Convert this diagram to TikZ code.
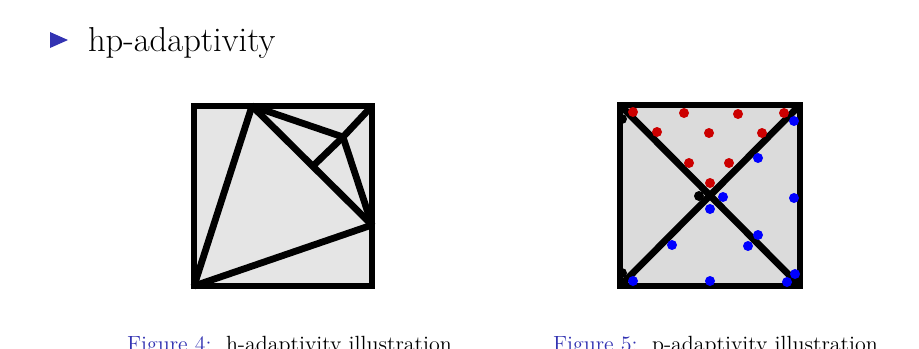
\documentclass[tikz,border=0pt]{standalone}
\usepackage{tikz}
\definecolor{structblue}{RGB}{51,51,178}
\definecolor{dotred}{RGB}{204,0,0}
\definecolor{dotblue}{RGB}{0,0,255}

\begin{document}
\begin{tikzpicture}[x=0.5pt, y=-0.5pt, every node/.style={inner sep=0pt, outer sep=0pt},
	mesh/.style={line width=3.4pt}, dot/.style={radius=2.5pt}]
	\clip (0,0) rectangle (919,348);
	\fill[structblue] (50,32) -- (50,48) -- (68,40) -- cycle;
	\node[anchor=base west, font=\fontsize{17.3}{21}\selectfont] (title) at (88,51) {hp-adaptivity};
	% h-adaptivity mesh
	\begin{scope}
		\coordinate (a1) at (194,106);
		\coordinate (a2) at (372,106);
		\coordinate (a3) at (372,286);
		\coordinate (a4) at (194,286);
		\coordinate (p) at (252,106);
		\coordinate (q) at (343,137);
		\coordinate (r) at (372,225);
		\coordinate (s) at (313,166);
		\filldraw[mesh, fill=black!10] (a1) rectangle (a3);
		\draw[mesh] (p) -- (a4);
		\draw[mesh] (a4) -- (r);
		\draw[mesh] (p) -- (r);
		\draw[mesh] (p) -- (q);
		\draw[mesh] (q) -- (a2);
		\draw[mesh] (q) -- (r);
		\draw[mesh] (q) -- (s);
		\node[anchor=base west, font=\fontsize{11}{13}\selectfont] (cap4) at (127,351) {\textcolor{structblue}{Figure 4:}\ \ h-adaptivity illustration};
	\end{scope}
	% p-adaptivity element
	\begin{scope}
		\coordinate (b1) at (620,105);
		\coordinate (b2) at (800,105);
		\coordinate (b3) at (800,286);
		\coordinate (b4) at (620,286);
		\filldraw[mesh, fill=black!14] (b1) rectangle (b3);
		\draw[mesh] (b1) -- (b3);
		\draw[mesh] (b4) -- (b2);
		\foreach \pt in {(622,119),(622,273),(699,196)} {\fill[dot] \pt circle;}
		\foreach \pt in {(633,112),(684,113),(738,114),(784,113),(657,132),(709,133),(762,133),(689,163),(729,163),(710,183)}
			{\fill[dotred, dot] \pt circle;}
		\foreach \pt in {(794,121),(758,158),(723,197),(794,198),(710,209),(672,245),(758,235),(748,246),(633,281),(710,281),(787,282),(795,274)}
			{\fill[dotblue, dot] \pt circle;}
		\node[anchor=base west, font=\fontsize{11}{13}\selectfont] (cap5) at (553,351) {\textcolor{structblue}{Figure 5:}\ \ p-adaptivity illustration};
	\end{scope}
\end{tikzpicture}
\end{document}
